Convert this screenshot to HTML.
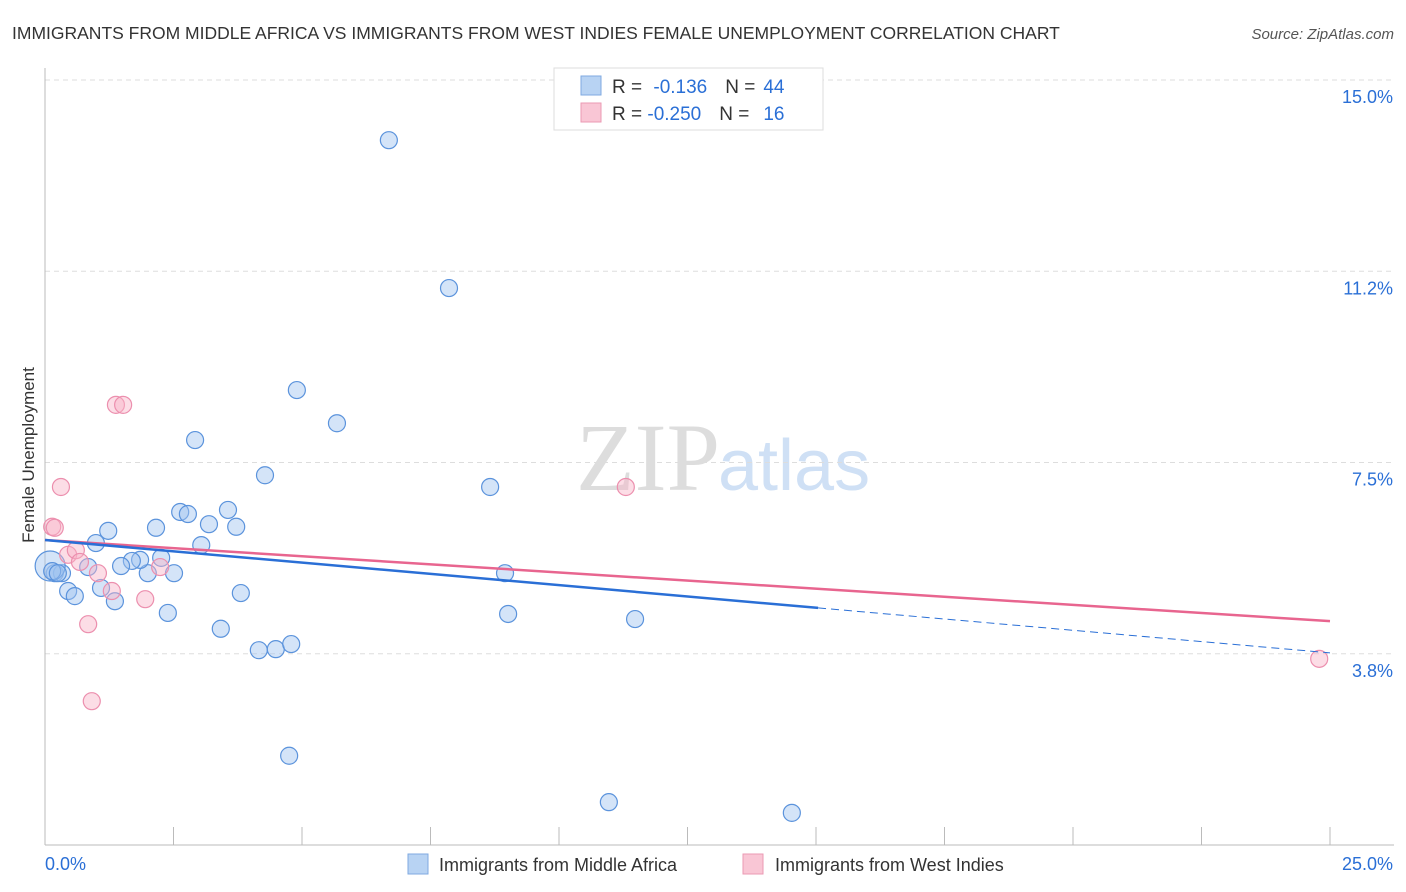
<!DOCTYPE html>
<html><head><meta charset="utf-8"><style>
body{margin:0;background:#fff;font-family:"Liberation Sans",sans-serif;}
svg{display:block}
</style></head><body>
<svg id="chart" width="1406" height="892" xmlns="http://www.w3.org/2000/svg">
<text x="12" y="39" font-size="17.5" fill="#333">IMMIGRANTS FROM MIDDLE AFRICA VS IMMIGRANTS FROM WEST INDIES FEMALE UNEMPLOYMENT CORRELATION CHART</text>
<text x="1394" y="39" font-size="15" fill="#555" font-style="italic" text-anchor="end">Source: ZipAtlas.com</text>
<text x="720" y="490" font-size="96" fill="#ddd" font-family="Liberation Serif,serif" text-anchor="end">ZIP</text>
<text x="718" y="490" font-size="72" fill="#cfe0f5">atlas</text>
<g id="grid"></g>
<g id="axes"></g>
<g id="marks"></g>
<text transform="translate(34,455) rotate(-90)" font-size="17" fill="#333" text-anchor="middle">Female Unemployment</text>
<g>
<rect x="554" y="68" width="269" height="62" fill="#fff" stroke="#ddd"/>
<rect x="581" y="76" width="20" height="19" fill="#b8d3f3" stroke="#7fa9e0"/>
<rect x="581" y="103" width="20" height="19" fill="#f9c6d5" stroke="#eb9ab3"/>
<text x="612" y="93" font-size="19" fill="#333">R = <tspan fill="#2a6fd6" dx="6">-0.136</tspan><tspan fill="#333" dx="18">N =</tspan><tspan fill="#2a6fd6" dx="8">44</tspan></text>
<text x="612" y="120" font-size="19" fill="#333">R = <tspan fill="#2a6fd6">-0.250</tspan><tspan fill="#333" dx="18">N =</tspan><tspan fill="#2a6fd6" dx="14">16</tspan></text>
</g>
<g>
<rect x="408" y="854" width="20" height="20" fill="#b8d3f3" stroke="#7fa9e0"/>
<text x="439" y="871" font-size="18" fill="#333">Immigrants from Middle Africa</text>
<rect x="743" y="854" width="20" height="20" fill="#f9c6d5" stroke="#eb9ab3"/>
<text x="775" y="871" font-size="18" fill="#333">Immigrants from West Indies</text>
</g>
</svg>
<script>
const blueX=[6.69,7.86,4.90,5.68,2.92,4.28,8.66,2.63,2.78,3.56,3.19,3.72,2.16,1.23,3.04,0.99,8.95,2.51,2.00,2.26,1.85,1.69,1.48,0.84,0.19,0.33,0.10,0.45,0.58,1.09,1.36,3.81,2.39,9.01,11.48,3.42,4.16,4.49,4.79,4.75,10.97,14.53,0.14,0.25];
const blueY=[13.82,10.92,8.92,8.27,7.94,7.25,7.02,6.53,6.49,6.57,6.29,6.24,6.22,6.16,5.88,5.92,5.33,5.33,5.33,5.63,5.59,5.57,5.47,5.45,5.33,5.33,5.47,4.98,4.88,5.04,4.78,4.94,4.55,4.53,4.43,4.24,3.82,3.84,3.94,1.75,0.84,0.63,5.37,5.33];
const pinkX=[1.38,1.52,0.31,0.14,0.19,0.45,0.60,1.03,1.30,1.95,0.84,2.24,0.91,11.30,24.79,0.68];
const pinkY=[8.63,8.63,7.02,6.24,6.22,5.69,5.78,5.33,4.98,4.82,4.33,5.45,2.82,7.02,3.65,5.55];
const yTicks=[3.75,7.5,11.25,15];
const yTickLabels=["3.8%","7.5%","11.2%","15.0%"];
const xTicks=[0,2.5,5,7.5,10,12.5,15,17.5,20,22.5,25];
const blueTrend=[5.98,-0.0885];
const pinkTrend=[5.98,-0.0636];
const blueSolidEnd=15.04;

const X0=45,X1=1330,Y0=845,Y1=80;
const xs=v=>X0+(v/25)*(X1-X0);
const ys=v=>Y0-(v/15)*(Y0-Y1);
const NS="http://www.w3.org/2000/svg";
function mk(tag,attrs,parent){const e=document.createElementNS(NS,tag);for(const k in attrs)e.setAttribute(k,attrs[k]);parent.appendChild(e);return e;}
const grid=document.getElementById('grid'),axes=document.getElementById('axes'),marks=document.getElementById('marks');
yTicks.forEach((t,i)=>{
  const l=mk('line',{x1:X0,x2:1394,y1:ys(t),y2:ys(t),stroke:'#ddd','stroke-dasharray':'5,4'},grid);
  
  
  const tx=mk('text',{x:1393,y:ys(t)+23,'font-size':18,fill:'#2a6fd6','text-anchor':'end'},axes);
  tx.textContent=yTickLabels[i];
  
  
});
const ya=mk('line',{x1:X0,x2:X0,y1:68,y2:Y0,stroke:'#bbb'},axes);


const xa=mk('line',{x1:X0,x2:1394,y1:Y0,y2:Y0,stroke:'#bbb'},axes);


xTicks.forEach(t=>{
  const l=mk('line',{x1:xs(t),x2:xs(t),y1:Y0,y2:Y0-18,stroke:'#bbb'},axes);
  
  
});
const xl0=mk('text',{x:45,y:870,'font-size':18,fill:'#2a6fd6'},axes);xl0.textContent='0.0%';


const xl1=mk('text',{x:1393,y:870,'font-size':18,fill:'#2a6fd6','text-anchor':'end'},axes);xl1.textContent='25.0%';



blueX.forEach((x,i)=>{
  const c=mk('circle',{cx:xs(x),cy:ys(blueY[i]),r:i===26?15:8.5,fill:'rgba(160,196,240,0.45)',stroke:'#5b93dc','stroke-width':1.2},marks);
  
  
});
pinkX.forEach((x,i)=>{
  const c=mk('circle',{cx:xs(x),cy:ys(pinkY[i]),r:8.5,fill:'rgba(248,180,200,0.45)',stroke:'#ec8fae','stroke-width':1.2},marks);
  
  
});
const tb=v=>blueTrend[0]+blueTrend[1]*v, tp=v=>pinkTrend[0]+pinkTrend[1]*v;
const pl=mk('line',{x1:xs(0),y1:ys(tp(0)),x2:xs(25),y2:ys(tp(25)),stroke:'#e8658f','stroke-width':2.5},marks);


const bl=mk('line',{x1:xs(0),y1:ys(tb(0)),x2:xs(blueSolidEnd),y2:ys(tb(blueSolidEnd)),stroke:'#2a6fd6','stroke-width':2.5},marks);


const bd=mk('line',{x1:xs(blueSolidEnd),y1:ys(tb(blueSolidEnd)),x2:xs(25),y2:ys(tb(25)),stroke:'#2a6fd6','stroke-width':1,'stroke-dasharray':'8,5'},marks);


</script>
</body></html>
